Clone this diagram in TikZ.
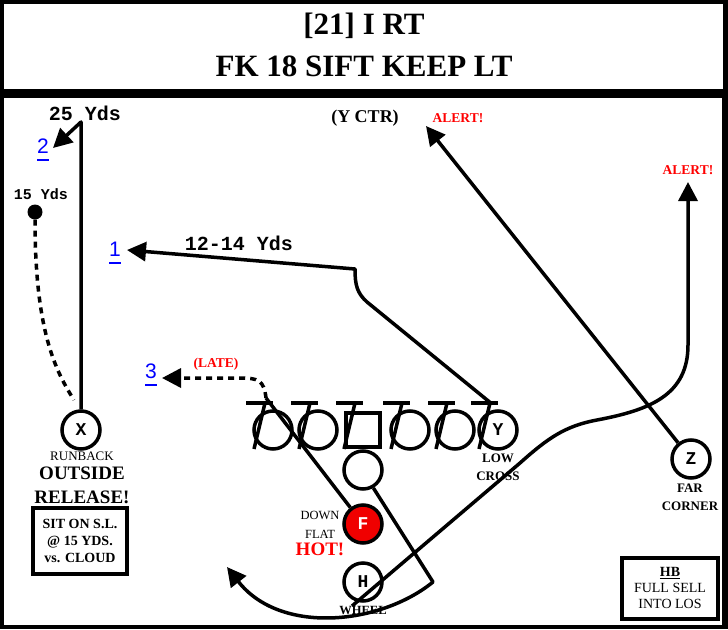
\documentclass[tikz,border=0pt]{standalone}
\usepackage{fontspec}
\setmainfont{Liberation Serif}
\setsansfont{Liberation Sans}
\setmonofont{Liberation Mono}
\usetikzlibrary{arrows.meta,positioning,calc}
\definecolor{hotred}  {HTML}{FF0000}
\definecolor{fillred} {HTML}{F00000}
\definecolor{numblue} {HTML}{0000FF}
\newcommand\fsz[1]{\fontsize{#1}{#1}\selectfont}
\newcommand\numbar[1]{\setbox0=\hbox{#1}\leavevmode\rlap{\copy0}\raisebox{-7pt}{\rule{\wd0}{2pt}}}
\tikzset{
  player/.style={circle,draw=black,line width=3.5pt,minimum size=38pt,inner sep=0pt,
                 font=\ttfamily\bfseries\fsz{18}},
  route/.style={line width=3.5pt,line join=round},
  tip/.style={-{Triangle[length=19pt,width=19pt]}},
  blockline/.style={line width=3.5pt},
  yds/.style={font=\ttfamily\bfseries\fsz{20}},
  playnum/.style={font=\sffamily\fsz{21},text=numblue,inner sep=1pt},
  tag/.style={font=\bfseries\fsz{13},inner sep=0pt},
  alert/.style={font=\bfseries\fsz{13.5},text=hotred,inner sep=0pt},
  notebox/.style={draw=black,line width=4pt,align=center,inner sep=0pt}
}

\begin{document}
\begin{tikzpicture}[x=1pt,y=-1pt]
  % frame
  \fill[black] (0,0) rectangle (728,629);
  \fill[white] (4,4) rectangle (723,89);
  \fill[white] (4,98) rectangle (722,625);
  \useasboundingbox (0,0) rectangle (728,629);

  \node[font=\bfseries\fsz{31},align=center,inner sep=0pt,
        text depth=0pt] (title) at (364,45)
    {[21] I RT\\[11pt] FK 18 SIFT KEEP LT};

  % skill players
  \node[player] (X) at (81,430) {X};
  \node[player] (Y) at (498,430) {Y};
  \node[player] (Z) at (691,459) {Z};
  \node[player] (QB) at (363,470) {};
  \node[player,fill=fillred,text=white] (F) at (363,524) {F};
  \node[player] (H) at (363,582) {H};

  % line
  \node[player] (LT) at (273,430) {};
  \node[player] (LG) at (318,430) {};
  \node[draw=black,line width=4pt,minimum size=34pt,inner sep=0pt] (C) at (363,430) {};
  \node[player] (RG) at (410,430) {};
  \node[player] (RT) at (455,430) {};
  \foreach \cx in {273,318,363,410,455,498}{
    \draw[blockline] (\cx-27,403) -- (\cx,403);
    \draw[blockline] (\cx-8,403) -- (\cx-19,449);
  }

  % route labels
  \node[yds] (yds25) at (85,113) {25 Yds};
  \node[yds,font=\ttfamily\bfseries\fsz{15}] (yds15) at (41,194) {15 Yds};
  \node[yds] (yds12) at (239,243) {12-14 Yds};
  \node[playnum] (num2) at (43,150) {\numbar{2}};
  \node[playnum] (num1) at (115,253) {\numbar{1}};
  \node[playnum] (num3) at (151,375) {\numbar{3}};
  \node[alert] (late) at (216,364) {(LATE)};
  \node[font=\bfseries\fsz{18},inner sep=0pt] (yctr) at (365,118) {(Y CTR)};
  \node[alert] (alertz) at (458,118) {ALERT!};
  \node[alert] (alerth) at (688,170) {ALERT!};
  \node[circle,fill=black,minimum size=15pt,inner sep=0pt] (dot) at (35,212) {};

  % player notes
  \node[font=\fsz{13},inner sep=0pt] (runback) at (82,456) {RUNBACK};
  \node[font=\bfseries\fsz{19},inner sep=0pt] (outside) at (82,473) {OUTSIDE};
  \node[font=\bfseries\fsz{19},inner sep=0pt] (release) at (82,497) {RELEASE!};
  \node[notebox,font=\bfseries\fsz{14},minimum width=94pt,minimum height=66pt]
    (sitbox) at (80,541) {SIT ON S.L.\\[3pt] @ 15 YDS.\\[3pt] vs. CLOUD};
  \node[tag] (low) at (498,458) {LOW};
  \node[tag] (cross) at (498,476) {CROSS};
  \node[tag] (far) at (690,488) {FAR};
  \node[tag] (corner) at (690,506) {CORNER};
  \node[font=\fsz{12.5},inner sep=0pt] (down) at (320,515) {DOWN};
  \node[font=\fsz{12.5},inner sep=0pt] (flat) at (320,534) {FLAT};
  \node[font=\bfseries\fsz{19},text=hotred,inner sep=0pt] (hot) at (320,549) {HOT!};
  \node[tag,font=\bfseries\fsz{12.5}] (wheel) at (363,610) {WHEEL};
  \node[notebox,font=\fsz{14},minimum width=96pt,minimum height=61pt]
    (hbbox) at (670,588) {\textbf{\underline{HB}}\\[2pt] FULL SELL\\[2pt] INTO LOS};

  % route points
  \coordinate (xtop) at (81,122);
  \coordinate (x2) at (53,148);
  \coordinate (xdash) at (74,400);
  \coordinate (ystart) at (492,404);
  \coordinate (ybend) at (367,302);
  \coordinate (ycorner) at (355,269);
  \coordinate (y1) at (127,250);
  \coordinate (flate) at (266,398);
  \coordinate (f3) at (162,378);
  \coordinate (ztip) at (426,126);
  \coordinate (hstart) at (352,606);
  \coordinate (hcut) at (520,463);
  \coordinate (htip) at (688,182);
  \coordinate (qbturn) at (433,582);
  \coordinate (qbtip) at (227,567);

  % routes
  \draw[route,tip] (X) -- (xtop) -- (x2);
  \draw[route,dash pattern=on 6pt off 5pt] (dot) .. controls (35,330) and (55,370) .. (xdash);
  \draw[route,tip] (ystart) -- (ybend) .. controls (357,293) and (355,285) .. (ycorner) -- (y1);
  \draw[route] (F) -- (flate);
  \draw[route,tip,dash pattern=on 6pt off 5pt] (flate) .. controls (264,380) and (258,378) .. (240,378) -- (f3);
  \draw[route,tip] (Z) -- (ztip);
  \draw[route,tip] (hstart) -- (hcut) .. controls (548,438) and (565,426) .. (597,420)
                   .. controls (650,410) and (688,395) .. (688,345) -- (htip);
  \draw[route,tip] (QB.-60) -- (qbturn) .. controls (380,625) and (280,635) .. (qbtip);
\end{tikzpicture}
\end{document}
